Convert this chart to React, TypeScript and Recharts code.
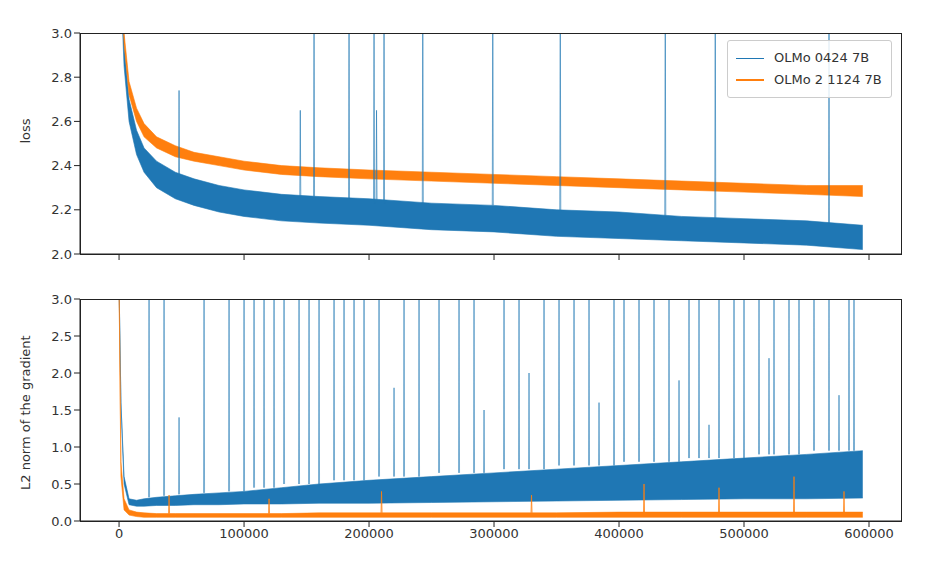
import { ComposedChart, Area, Line, XAxis, YAxis } from "recharts";

const BLUE = "#1f77b4";
const ORANGE = "#ff7f0e";

// training steps sampled for the noisy bands
const steps = [0, 1500, 4000, 8000, 14000, 20000, 30000, 45000, 60000, 80000, 100000, 130000, 160000, 200000, 250000, 300000, 350000, 400000, 450000, 500000, 550000, 595000];

// loss bands (low / high)
const blueLossLow = [3.6, 3.2, 2.85, 2.6, 2.45, 2.37, 2.3, 2.25, 2.22, 2.19, 2.17, 2.15, 2.14, 2.13, 2.11, 2.1, 2.08, 2.07, 2.06, 2.05, 2.04, 2.02];
const blueLossHigh = [3.6, 3.3, 2.95, 2.7, 2.56, 2.48, 2.42, 2.37, 2.34, 2.31, 2.29, 2.27, 2.26, 2.25, 2.23, 2.22, 2.2, 2.19, 2.17, 2.16, 2.15, 2.13];
const orangeLossLow = [3.6, 3.3, 2.95, 2.72, 2.6, 2.53, 2.48, 2.44, 2.42, 2.4, 2.38, 2.36, 2.35, 2.34, 2.33, 2.32, 2.31, 2.3, 2.29, 2.28, 2.27, 2.26];
const orangeLossHigh = [3.6, 3.35, 3.0, 2.78, 2.66, 2.59, 2.53, 2.49, 2.46, 2.44, 2.42, 2.4, 2.39, 2.38, 2.37, 2.36, 2.35, 2.34, 2.33, 2.32, 2.31, 2.31];

// gradient norm bands from the bottom panel
const blueGradLow = [3.2, 1.6, 0.5, 0.22, 0.2, 0.2, 0.21, 0.21, 0.22, 0.22, 0.23, 0.23, 0.24, 0.24, 0.25, 0.26, 0.27, 0.28, 0.29, 0.3, 0.3, 0.31];
const blueGradHigh = [3.2, 1.6, 0.6, 0.3, 0.28, 0.3, 0.32, 0.34, 0.36, 0.38, 0.4, 0.45, 0.5, 0.55, 0.6, 0.65, 0.7, 0.75, 0.8, 0.85, 0.9, 0.95];
const orangeGradLow = [3.2, 0.6, 0.15, 0.08, 0.06, 0.05, 0.05, 0.05, 0.05, 0.05, 0.05, 0.05, 0.05, 0.05, 0.05, 0.05, 0.05, 0.05, 0.05, 0.05, 0.05, 0.05];
const orangeGradHigh = [3.2, 0.8, 0.3, 0.15, 0.12, 0.11, 0.1, 0.1, 0.1, 0.1, 0.1, 0.1, 0.11, 0.11, 0.11, 0.11, 0.11, 0.12, 0.12, 0.12, 0.12, 0.12];

// loss spikes [step, peak]
const lossSpikes = [
  [48000, 2.74], [145000, 2.65], [156000, 3.2], [184000, 3.2], [204000, 3.2], [206000, 2.65], [212000, 3.2],
  [243000, 3.2], [299000, 3.2], [353000, 3.2], [437000, 3.2], [477000, 3.2], [568000, 3.2],
];

// gradient norm spikes [step, peak]
const gradSpikes = [
  [24000, 3.2], [36000, 3.2], [48000, 1.4], [68000, 3.2], [88000, 3.2], [100000, 3.2], [108000, 3.2], [116000, 3.2],
  [124000, 3.2], [132000, 3.2], [144000, 3.2], [152000, 3.2], [160000, 3.2], [172000, 3.2], [180000, 3.2],
  [188000, 3.2], [196000, 3.2], [208000, 3.2], [220000, 1.8], [228000, 3.2], [240000, 3.2], [256000, 3.2],
  [272000, 3.2], [284000, 3.2], [292000, 1.5], [308000, 3.2], [320000, 3.2], [328000, 2.0], [340000, 3.2],
  [352000, 3.2], [364000, 3.2], [376000, 3.2], [384000, 1.6], [396000, 3.2], [404000, 3.2], [416000, 3.2],
  [428000, 3.2], [440000, 3.2], [448000, 1.9], [456000, 3.2], [464000, 3.2], [472000, 1.3], [480000, 3.2],
  [492000, 3.2], [500000, 3.2], [512000, 3.2], [520000, 2.2], [524000, 3.2], [536000, 3.2], [544000, 3.2],
  [556000, 3.2], [568000, 3.2], [576000, 1.7], [584000, 3.2], [588000, 3.2],
];
const orangeGradSpikes = [[40000, 0.35], [120000, 0.3], [210000, 0.4], [330000, 0.35], [420000, 0.5], [480000, 0.45], [540000, 0.6], [580000, 0.4]];

const xTicks = [0, 100000, 200000, 300000, 400000, 500000, 600000];
const lossTicks = [2.0, 2.2, 2.4, 2.6, 2.8, 3.0];
const gradTicks = [0, 0.5, 1.0, 1.5, 2.0, 2.5, 3.0];

const lossData = steps.map((s, i) => ({
  step: s,
  blue: [blueLossLow[i], blueLossHigh[i]],
  orange: [orangeLossLow[i], orangeLossHigh[i]],
}));
const gradData = steps.map((s, i) => ({
  step: s,
  blue: [blueGradLow[i], blueGradHigh[i]],
  orange: [orangeGradLow[i], orangeGradHigh[i]],
}));

function spikeLine(spikes: number[][], base: (s: number) => number) {
  const pts: { step: number; v: number | null }[] = [];
  spikes.forEach(([s, p]) => {
    pts.push({ step: s - 400, v: base(s) });
    pts.push({ step: s, v: p });
    pts.push({ step: s + 400, v: base(s) });
    pts.push({ step: s + 401, v: null });
  });
  return pts;
}
const baseAt = (arr: number[]) => (s: number) => {
  let i = steps.findIndex((x) => x >= s);
  if (i < 0) i = steps.length - 1;
  return arr[i];
};

const font = { fontSize: 13, fill: "#333", fontFamily: "DejaVu Sans" };
const domain: [number, number] = [-31250, 626400];
const SPINE = "#222";
const box = { position: "absolute" as const, left: 80, width: 822, border: `1px solid ${SPINE}`, boxSizing: "border-box" as const, pointerEvents: "none" as const };

export default function App() {
  return (
    <div style={{ position: "absolute", left: 0, top: 0, width: 934, height: 566, background: "#fff", fontFamily: "DejaVu Sans" }}>
      <ComposedChart width={934} height={280} data={lossData} margin={{ top: 33, right: 32, left: 25, bottom: 1 }}>
        <XAxis dataKey="step" type="number" domain={domain} ticks={xTicks} tick={font} tickFormatter={() => ""} height={25} allowDataOverflow stroke={SPINE} />
        <YAxis type="number" domain={[2, 3]} ticks={lossTicks} allowDataOverflow width={55} tick={font} stroke={SPINE}
          tickFormatter={(v) => v.toFixed(1)}
          label={{ value: "loss", angle: -90, position: "insideLeft", offset: 0, style: font }} />
        <Area dataKey="blue" type="linear" stroke={BLUE} strokeWidth={0.6} fill={BLUE} fillOpacity={1} isAnimationActive={false} />
        <Line data={spikeLine(lossSpikes, baseAt(blueLossHigh))} dataKey="v" stroke={BLUE} strokeWidth={0.8} strokeOpacity={0.8} dot={false} connectNulls={false} isAnimationActive={false} />
        <Area dataKey="orange" type="linear" stroke={ORANGE} strokeWidth={0.6} fill={ORANGE} fillOpacity={1} isAnimationActive={false} />
      </ComposedChart>
      <ComposedChart width={934} height={286} data={gradData} margin={{ top: 19, right: 32, left: 25, bottom: 15 }}>
        <XAxis dataKey="step" type="number" domain={domain} ticks={xTicks} tick={font} height={30} allowDataOverflow stroke={SPINE} />
        <YAxis type="number" domain={[0, 3]} ticks={gradTicks} allowDataOverflow width={55} tick={font} stroke={SPINE}
          tickFormatter={(v) => v.toFixed(1)}
          label={{ value: "L2 norm of the gradient", angle: -90, position: "insideLeft", offset: 0, dy: 80, style: font }} />
        <Area dataKey="blue" type="linear" stroke={BLUE} strokeWidth={0.6} fill={BLUE} fillOpacity={1} isAnimationActive={false} />
        <Line data={spikeLine(gradSpikes, baseAt(blueGradHigh))} dataKey="v" stroke={BLUE} strokeWidth={0.8} strokeOpacity={0.75} dot={false} connectNulls={false} isAnimationActive={false} />
        <Area dataKey="orange" type="linear" stroke={ORANGE} strokeWidth={0.6} fill={ORANGE} fillOpacity={1} isAnimationActive={false} />
        <Line data={spikeLine(orangeGradSpikes, baseAt(orangeGradHigh))} dataKey="v" stroke={ORANGE} strokeWidth={0.8} dot={false} connectNulls={false} isAnimationActive={false} />
      </ComposedChart>
      <div style={{ ...box, top: 33, height: 222 }} />
      <div style={{ ...box, top: 299, height: 223 }} />
      <div style={{ position: "absolute", left: 727, top: 40, width: 165, padding: "6px 8px", boxSizing: "border-box", border: "1px solid #ccc", borderRadius: 3, background: "rgba(255,255,255,0.85)", fontSize: 13, color: "#333", lineHeight: "22px" }}>
        <div style={{ display: "flex", alignItems: "center" }}>
          <span style={{ width: 28, height: 1, background: BLUE, marginRight: 10 }} />OLMo 0424 7B
        </div>
        <div style={{ display: "flex", alignItems: "center" }}>
          <span style={{ width: 28, height: 1.5, background: ORANGE, marginRight: 10 }} />OLMo 2 1124 7B
        </div>
      </div>
    </div>
  );
}
